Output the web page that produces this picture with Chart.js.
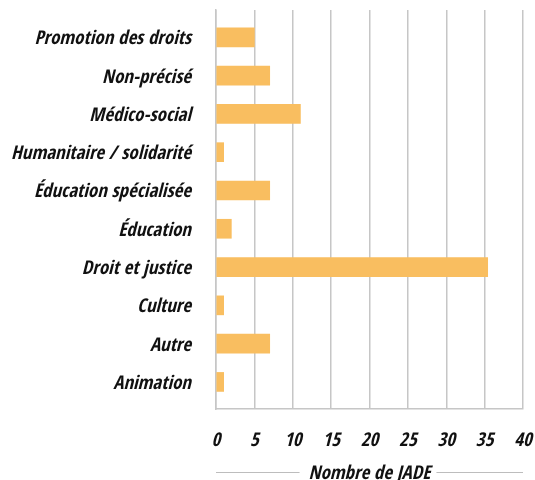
<!DOCTYPE html>
<html>
<head>
<meta charset="utf-8">
<script src="https://cdn.jsdelivr.net/npm/chart.js@4"></script>
<style>
  html, body { margin: 0; padding: 0; background: #fff; }
  #wrap { width: 535px; height: 480px; }
</style>
</head>
<body>
<div id="wrap"><canvas id="chart"></canvas></div>
<script>
const categories = [
  "Promotion des droits",
  "Non-précisé",
  "Médico-social",
  "Humanitaire / solidarité",
  "Éducation spécialisée",
  "Éducation",
  "Droit et justice",
  "Culture",
  "Autre",
  "Animation",
];
const jadeCounts = [5, 7, 11, 1, 7, 2, 35.4, 1, 7, 1];
const xTicks = [0, 5, 10, 15, 20, 25, 30, 35, 40];
const axisTitle = "Nombre de JADE";

const FAMILY = "'Open Sans Condensed', 'Roboto Condensed', sans-serif";
const font = { family: FAMILY, size: 19, style: "italic", weight: "bold", lineHeight: 1 };
const grey = "#c6c6c6";

// lines either side of the x axis title
const titleLines = {
  id: "titleLines",
  afterDraw(chart) {
    const { ctx, chartArea } = chart;
    const y = 472;
    ctx.save();
    ctx.font = "italic bold 19px " + FAMILY;
    const w = ctx.measureText(axisTitle).width;
    const cx = (chartArea.left + chartArea.right) / 2;
    ctx.strokeStyle = "#bdbdbd";
    ctx.lineWidth = 1;
    ctx.beginPath();
    ctx.moveTo(chartArea.left, y + 0.5);
    ctx.lineTo(cx - w / 2 - 9, y + 0.5);
    ctx.moveTo(cx + w / 2 + 6, y + 0.5);
    ctx.lineTo(chartArea.right, y + 0.5);
    ctx.stroke();
    ctx.restore();
  },
};

new Chart(document.getElementById("chart"), {
  type: "bar",
  data: {
    labels: categories,
    datasets: [{
      data: jadeCounts,
      backgroundColor: "#f9be60",
      barThickness: 19,
    }],
  },
  options: {
    indexAxis: "y",
    responsive: true,
    maintainAspectRatio: false,
    animation: false,
    layout: { padding: { top: 10, right: 12, left: 0, bottom: -4 } },
    plugins: { legend: { display: false }, tooltip: { enabled: false } },
    scales: {
      x: {
        min: 0,
        max: 40,
        afterBuildTicks: (s) => { s.ticks = xTicks.map((v) => ({ value: v })); },
        afterFit: (s) => { s.height = 75; s.paddingLeft = 0; s.paddingRight = 0; },
        grid: { color: grey, lineWidth: 1.5, drawTicks: false },
        border: { color: grey, width: 1.5 },
        ticks: { color: "#111", font, padding: 23 },
        title: { display: true, text: axisTitle, color: "#111", font, padding: 0 },
      },
      y: {
        afterFit: (s) => { s.width = 216; s.paddingTop = 0; s.paddingBottom = 0; },
        // leave a little room above the first and below the last bar
        afterBuildTicks: (s) => { s._startValue = -0.713; s._valueRange = 10.42; },
        grid: { display: false },
        border: { color: grey, width: 1.5 },
        ticks: { color: "#111", font, padding: 17, labelOffset: 2 },
      },
    },
  },
  plugins: [titleLines],
});
</script>
</body>
</html>
